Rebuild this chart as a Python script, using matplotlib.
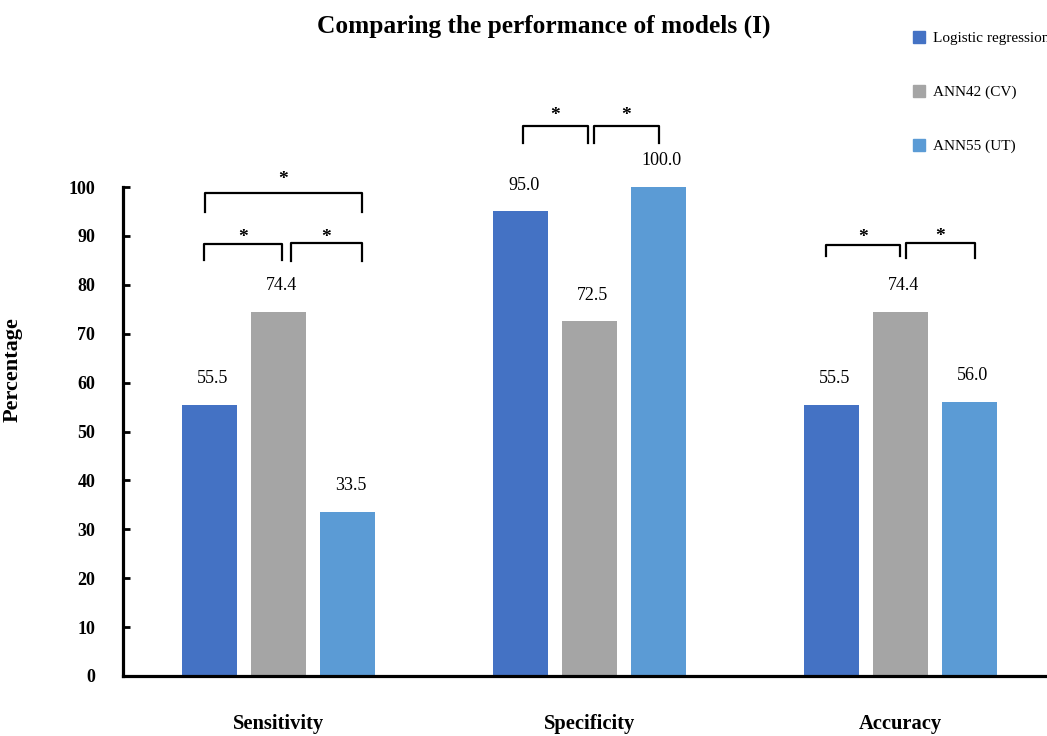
import numpy as np
import matplotlib
matplotlib.use("Agg")
import matplotlib.pyplot as plt
from matplotlib.patches import Patch

plt.rcParams['font.family'] = ['Liberation Serif', 'DejaVu Serif']

# metrics and model scores (%)
metrics = ['Sensitivity', 'Specificity', 'Accuracy']
models = ['Logistic regression', 'ANN42 (CV)', 'ANN55 (UT)']
logistic = [55.5, 95.0, 55.5]
ann42 = [74.4, 72.5, 74.4]
ann55 = [33.5, 100.0, 56.0]
colors = ['#4472C4', '#A5A5A5', '#5B9BD5']

# significance brackets: (metric index, left offset, right offset, top, leg drop, star gap)
brackets = [
    (0, -0.235, 0.267, 98.8, 3.9, 1.0),
    (0, -0.238, 0.010, 88.3, 3.3, -0.45),
    (0, 0.039, 0.270, 88.5, 3.6, -0.6),
    (1, -0.215, -0.006, 112.5, 3.5, 0.4),
    (1, 0.016, 0.222, 112.5, 3.5, 0.4),
    (2, -0.241, -0.003, 88.1, 2.3, -0.1),
    (2, 0.019, 0.238, 88.5, 3.0, -0.4),
]

fig = plt.figure(figsize=(10.47, 7.36), dpi=100)
ax = fig.add_axes([123 / 1047, 60 / 736, 924 / 1047, 489 / 736])

x = np.arange(len(metrics))
width = 0.177
step = 0.222
for i, vals in enumerate([logistic, ann42, ann55]):
    pos = x + (i - 1) * step
    ax.bar(pos, vals, width, color=colors[i], label=models[i], zorder=2)
    for px, v in zip(pos, vals):
        ax.text(px + 0.01, v + 5.4, f'{v:.1f}', ha='center', va='center', fontsize=13)

for g, l, r, top, drop, gap in brackets:
    ax.plot([g + l, g + l, g + r, g + r], [top - drop, top, top, top - drop],
            color='black', lw=1.6, clip_on=False, solid_joinstyle='round')
    ax.text(g + (l + r) / 2, top + gap, '*', ha='center', va='bottom',
            fontsize=14, fontweight='bold', clip_on=False)

ax.set_xlim(-0.5, 2.471)
ax.set_ylim(0, 100)
ax.set_yticks(range(0, 101, 10))
ax.set_xticks(x)
ax.set_xticklabels(metrics, fontsize=14.8, fontweight='bold')
for lab in ax.get_yticklabels():
    lab.set_fontweight('bold')
    lab.set_fontsize(13)
ax.tick_params(axis='x', length=0, pad=27)
ax.tick_params(axis='y', direction='in', length=5, width=2, pad=20)

for side in ['top', 'right']:
    ax.spines[side].set_visible(False)
for side in ['left', 'bottom']:
    ax.spines[side].set_linewidth(2.3)
    ax.spines[side].set_color('black')

ax.set_ylabel('Percentage', fontsize=16, fontweight='bold')
ax.yaxis.set_label_coords(-0.109, 0.626)

fig.text(544 / 1047, 1 - 26 / 736, 'Comparing the performance of models (I)',
         ha='center', va='center', fontsize=18.3, fontweight='bold')

# legend sits in the top right corner, running off the edge
handles = [Patch(color=c) for c in colors]
fig.legend(handles, models, loc='upper left', bbox_to_anchor=(913 / 1047, 1 - 31 / 736),
           frameon=False, fontsize=11, handlelength=0.8, handleheight=0.8,
           handletextpad=0.5, labelspacing=2.6, borderpad=0, borderaxespad=0)

fig.savefig('out.png', dpi=100)
